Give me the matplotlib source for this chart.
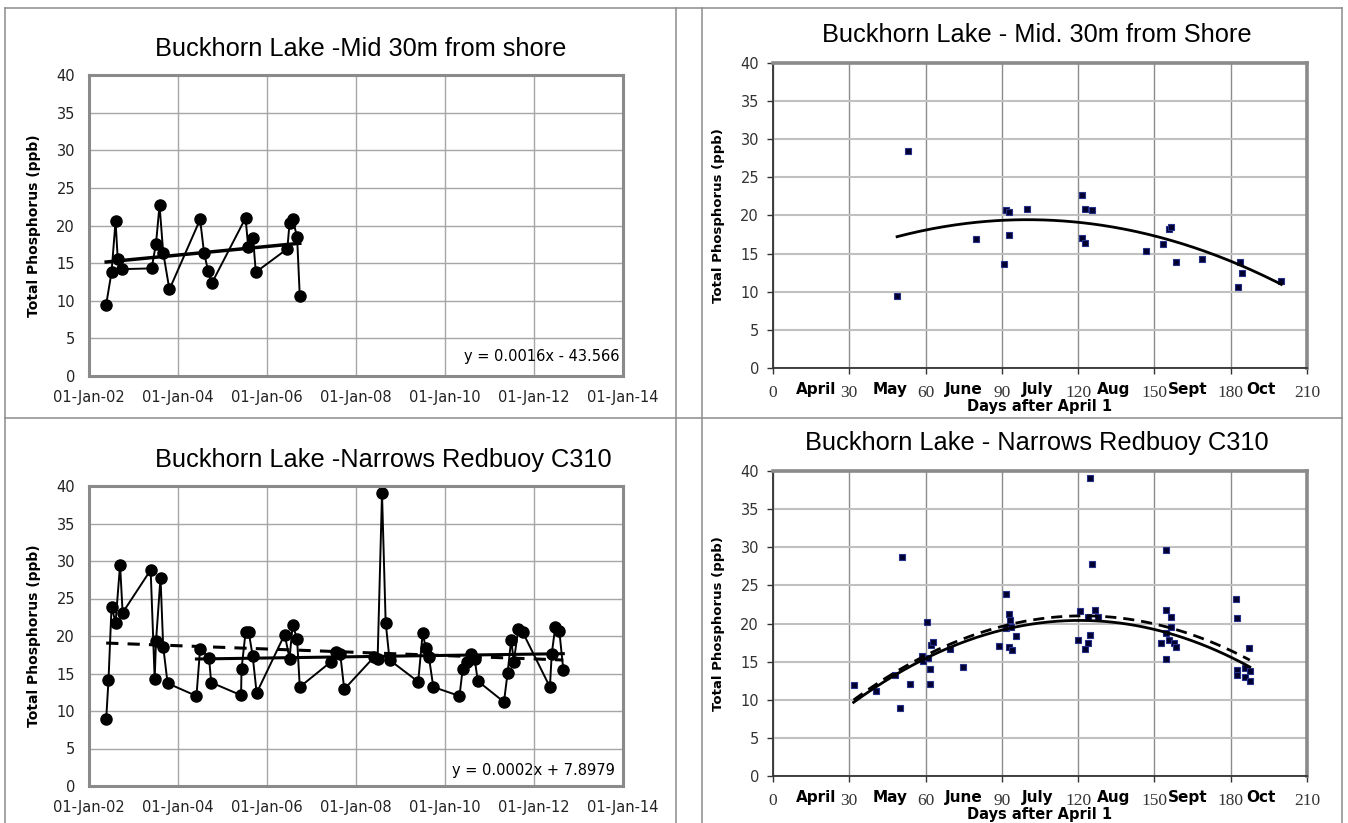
import matplotlib
matplotlib.use('Agg')
import matplotlib.pyplot as plt
import matplotlib.dates as mdates
from matplotlib.lines import Line2D
import numpy as np
import pandas as pd

# ---- data ----
MID_DATES = ['2002-05-22', '2002-07-05', '2002-08-07', '2002-08-25', '2002-09-27',
             '2003-05-30', '2003-07-05', '2003-08-03', '2003-09-02', '2003-10-23',
             '2004-07-01', '2004-08-02', '2004-09-04', '2004-10-07',
             '2005-07-09', '2005-07-31', '2005-09-09', '2005-10-01',
             '2006-06-17', '2006-07-05', '2006-07-31', '2006-09-05', '2006-09-27']
MID_TP = [9.5, 13.8, 20.6, 15.5, 14.2,
          14.3, 17.6, 22.7, 16.4, 11.5,
          20.8, 16.4, 14.0, 12.4,
          21.0, 17.1, 18.3, 13.8,
          16.9, 20.3, 20.8, 18.5, 10.6]

NAR_DATES = ['2002-05-22', '2002-06-10', '2002-07-05', '2002-08-07', '2002-09-13', '2002-10-04',
             '2003-05-22', '2003-06-24', '2003-07-05', '2003-08-11', '2003-09-02', '2003-10-08',
             '2004-06-01', '2004-07-01', '2004-09-12', '2004-09-30',
             '2005-06-02', '2005-06-06', '2005-07-09', '2005-08-03', '2005-09-05', '2005-10-08',
             '2006-05-26', '2006-07-05', '2006-07-31', '2006-09-05', '2006-09-27',
             '2007-06-13', '2007-07-20', '2007-08-25', '2007-09-27',
             '2008-05-29', '2008-06-27', '2008-08-02', '2008-09-01', '2008-10-03',
             '2009-05-26', '2009-07-02', '2009-07-27', '2009-08-22', '2009-09-27',
             '2010-04-30', '2010-05-26', '2010-07-02', '2010-08-03', '2010-09-02', '2010-09-27',
             '2011-04-30', '2011-05-30', '2011-06-28', '2011-07-20', '2011-08-25', '2011-10-01',
             '2012-05-11', '2012-05-26', '2012-06-24', '2012-07-27', '2012-08-29']
NAR_TP = [8.9, 14.1, 23.9, 21.8, 29.5, 23.1,
          28.8, 14.3, 19.3, 27.8, 18.6, 13.7,
          12.0, 18.3, 17.1, 13.8,
          12.1, 15.6, 20.5, 20.6, 17.4, 12.4,
          20.2, 17.0, 21.5, 19.6, 13.2,
          16.6, 17.9, 17.6, 12.9,
          17.2, 17.0, 39.0, 21.8, 16.8,
          13.9, 20.4, 18.4, 17.2, 13.2,
          12.0, 15.6, 16.6, 17.6, 16.9, 14.0,
          11.2, 15.1, 19.5, 16.6, 20.9, 20.5,
          13.2, 17.6, 21.2, 20.7, 15.5]
NAR_RECENT_FROM = '2004-01-01'

MID_DAYS = [48.8, 53.0, 79.8, 90.8, 91.7, 92.7, 92.7, 99.7, 121.7, 121.7, 122.7, 122.8,
            125.5, 146.6, 153.5, 155.7, 156.7, 158.5, 168.6, 182.7, 183.5, 184.5, 199.9]
MID_DAYS_TP = [9.5, 28.5, 16.9, 13.7, 20.7, 20.4, 17.5, 20.9, 22.7, 17.1, 16.4, 20.8,
               20.7, 15.4, 16.3, 18.2, 18.5, 13.9, 14.3, 10.6, 13.9, 12.4, 11.4]
MID_POLY = [-0.00085, 0.170, 10.95]

NAR_DAYS = [31.7, 40.7, 47.8, 49.8, 50.8, 53.8, 58.7, 59.0, 60.7, 61.0, 61.7, 61.7, 62.0, 63.0,
            69.7, 74.7, 88.7, 91.7, 91.8, 92.7, 92.7, 93.3, 93.7, 93.8, 95.7,
            119.8, 120.7, 122.7, 123.8, 123.8, 124.7, 124.7, 125.5, 126.7, 127.7,
            152.7, 154.7, 154.7, 154.7, 154.7, 155.7, 156.5, 156.7, 157.7, 158.5,
            182.2, 182.3, 182.3, 182.5, 185.5, 185.8, 187.3, 187.5, 187.5]
NAR_DAYS_TP = [12.0, 11.1, 13.2, 8.9, 28.7, 12.1, 15.8, 15.1, 20.2, 15.5, 14.0, 12.1, 17.2, 17.6,
               16.7, 14.3, 17.1, 23.9, 19.4, 21.2, 16.9, 20.5, 19.5, 16.5, 18.4,
               17.9, 21.6, 16.6, 17.5, 20.8, 39.1, 18.5, 27.8, 21.8, 20.8,
               17.4, 29.6, 21.8, 18.8, 15.4, 17.8, 20.9, 19.6, 17.5, 16.9,
               23.2, 20.7, 13.9, 13.2, 13.0, 14.1, 16.8, 13.8, 12.5]
NAR_POLY_SOLID = [-0.001361, 0.3281, 0.628]
NAR_POLY_DASHED = [-0.001353, 0.33016, 0.864]

MONTHS = ['April', 'May', 'June', 'July', 'Aug', 'Sept', 'Oct']
MONTH_POS = [17, 46, 75, 104, 134, 163, 192]

YLABEL = 'Total Phosphorus (ppb)'

W, H = 1348, 823
fig = plt.figure(figsize=(W / 100, H / 100), dpi=100)
fig.patch.set_facecolor('white')

NARROW = ['Liberation Sans Narrow', 'DejaVu Sans']


def px_axes(left, top, right, bottom):
    return fig.add_axes([left / W, 1 - bottom / H, (right - left) / W, (bottom - top) / H])


def fig_line(x0, y0, x1, y1, color='#8c8c8c', lw=1.1):
    fig.add_artist(Line2D([x0 / W, x1 / W], [1 - y0 / H, 1 - y1 / H],
                          transform=fig.transFigure, color=color, lw=lw))


def fig_title(x, y, s):
    fig.text(x / W, 1 - y / H, s, ha='center', va='center', fontsize=18.3,
             family='Liberation Sans')


def style_time_axes(ax):
    ax.set_ylim(0, 40)
    ax.set_yticks(np.arange(0, 41, 5))
    ax.set_xlim(pd.Timestamp('2002-01-01'), pd.Timestamp('2014-01-01'))
    ax.set_xticks(pd.date_range('2002-01-01', '2014-01-01', freq='2YS'))
    ax.xaxis.set_major_formatter(mdates.DateFormatter('%d-%b-%y'))
    ax.grid(True, color='#a6a6a6', lw=1.0)
    ax.set_axisbelow(True)
    for sp in ax.spines.values():
        sp.set_color('#8a8a8a')
        sp.set_linewidth(2.2)
    ax.tick_params(length=0, labelsize=10.5, colors='#222222')
    ax.tick_params(axis='x', pad=10)
    ax.tick_params(axis='y', pad=10)
    for lab in ax.get_xticklabels() + ax.get_yticklabels():
        lab.set_family(NARROW)
    ax.set_ylabel(YLABEL, fontsize=10, fontweight='bold', family='DejaVu Sans')
    ax.yaxis.set_label_coords(-0.09, 0.5)


def style_day_axes(ax):
    ax.set_ylim(0, 40)
    ax.set_yticks(np.arange(0, 41, 5))
    ax.set_xlim(0, 210)
    ax.set_xticks(np.arange(0, 211, 30))
    ax.xaxis.grid(True, color='#8c8c8c', lw=1.0)
    ax.yaxis.grid(True, color='#c0c0c0', lw=1.5)
    ax.set_axisbelow(True)
    for side in ['left', 'bottom']:
        ax.spines[side].set_color('#333333')
        ax.spines[side].set_linewidth(1.3)
    for side in ['top', 'right']:
        ax.spines[side].set_color('#8a8a8a')
        ax.spines[side].set_linewidth(2.6)
    ax.tick_params(direction='out', length=4, width=1, colors='#333333')
    ax.tick_params(axis='y', labelsize=10.5, pad=6)
    ax.tick_params(axis='x', labelsize=12.5, pad=8)
    for lab in ax.get_yticklabels():
        lab.set_family(NARROW)
    for lab in ax.get_xticklabels():
        lab.set_family('Liberation Serif')
    for name, pos in zip(MONTHS, MONTH_POS):
        ax.text(pos, -0.072, name, transform=ax.get_xaxis_transform(), ha='center',
                va='center', fontsize=11, fontweight='bold', family=NARROW)
    ax.text(0.5, -0.125, 'Days after April 1', transform=ax.transAxes, ha='center',
            va='center', fontsize=10.5, fontweight='bold', family=NARROW)
    ax.set_ylabel(YLABEL, fontsize=9.5, fontweight='bold', family='DejaVu Sans')
    ax.yaxis.set_label_coords(-0.09, 0.5)


# ---- cell borders ----
fig_line(5, 8, 1342, 8)
fig_line(5, 418, 1342, 418)
for xb in [5, 676, 702, 1342]:
    fig_line(xb, 8, xb, H)

# ---- top left: time series, mid station ----
ax1 = px_axes(89, 75, 623, 376)
d1 = pd.to_datetime(MID_DATES)
ax1.plot(d1, MID_TP, '-o', color='black', lw=1.4, ms=8)
x1 = mdates.date2num(d1)
c1 = np.polyfit(x1, MID_TP, 1)
xx1 = np.array([x1.min(), x1.max()])
ax1.plot(mdates.num2date(xx1), np.polyval(c1, xx1), color='black', lw=2.5)
style_time_axes(ax1)
ax1.text(542, H - 357, 'y = 0.0016x - 43.566', transform=None, fontsize=10.5,
         ha='center', va='center', family=NARROW)
fig_title(361, 49, 'Buckhorn Lake -Mid 30m from shore')

# ---- bottom left: time series, narrows ----
ax3 = px_axes(89, 486, 623, 786)
d3 = pd.to_datetime(NAR_DATES)
ax3.plot(d3, NAR_TP, '-o', color='black', lw=1.4, ms=8)
x3 = mdates.date2num(d3)
y3 = np.array(NAR_TP)
c3_all = np.polyfit(x3, y3, 1)
xx3 = np.array([x3.min(), x3.max()])
ax3.plot(mdates.num2date(xx3), np.polyval(c3_all, xx3), color='black', lw=2.2,
         ls=(0, (4, 3)))
recent = x3 >= mdates.date2num(pd.Timestamp(NAR_RECENT_FROM))
c3_rec = np.polyfit(x3[recent], y3[recent], 1)
xx3r = np.array([x3[recent].min(), x3[recent].max()])
ax3.plot(mdates.num2date(xx3r), np.polyval(c3_rec, xx3r), color='black', lw=2.2)
style_time_axes(ax3)
ax3.text(533, H - 771, 'y = 0.0002x + 7.8979', transform=None, fontsize=10.5,
         ha='center', va='center', family=NARROW)
fig_title(383, 460, 'Buckhorn Lake -Narrows Redbuoy C310')

# ---- top right: seasonal, mid station ----
ax2 = px_axes(773, 63, 1307, 368)
ax2.plot(MID_DAYS, MID_DAYS_TP, 's', ms=5, mfc='#00002e', mec='#24308a', mew=0.8)
dd = np.linspace(min(MID_DAYS), max(MID_DAYS), 200)
ax2.plot(dd, np.polyval(MID_POLY, dd), color='black', lw=2)
style_day_axes(ax2)
fig_title(1037, 35, 'Buckhorn Lake - Mid. 30m from Shore')

# ---- bottom right: seasonal, narrows ----
ax4 = px_axes(773, 471, 1307, 776)
ax4.plot(NAR_DAYS, NAR_DAYS_TP, 's', ms=5, mfc='#00002e', mec='#24308a', mew=0.8)
dn = np.linspace(min(NAR_DAYS), max(NAR_DAYS), 200)
ax4.plot(dn, np.polyval(NAR_POLY_DASHED, dn), color='black', lw=2, ls=(0, (4, 2.5)))
ax4.plot(dn, np.polyval(NAR_POLY_SOLID, dn), color='black', lw=2)
style_day_axes(ax4)
fig_title(1037, 443, 'Buckhorn Lake - Narrows Redbuoy C310')

fig.savefig('out.png', dpi=100)
